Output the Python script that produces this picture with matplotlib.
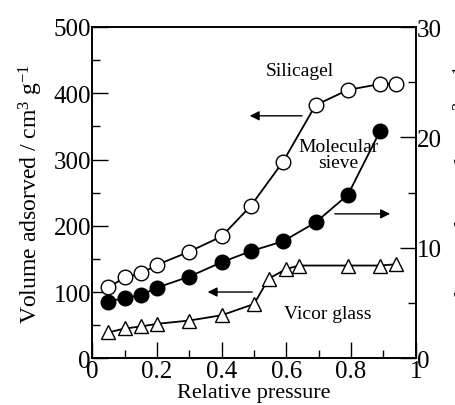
import matplotlib
matplotlib.use("Agg")
import matplotlib.pyplot as plt
from matplotlib.ticker import MultipleLocator

plt.rcParams['font.family'] = ['Liberation Serif', 'DejaVu Serif']
plt.rcParams['mathtext.fontset'] = 'custom'
plt.rcParams['mathtext.rm'] = 'Liberation Serif'
plt.rcParams['mathtext.it'] = 'Liberation Serif:italic'

# Data
sil_p = [0.05, 0.10, 0.15, 0.20, 0.30, 0.40, 0.49, 0.59, 0.69, 0.79, 0.89, 0.94]
sil_v = [107, 122, 128, 141, 161, 184, 230, 297, 382, 405, 414, 414]

mol_p = [0.05, 0.10, 0.15, 0.20, 0.30, 0.40, 0.49, 0.59, 0.69, 0.79, 0.89]
mol_v = [5.1, 5.5, 5.7, 6.4, 7.4, 8.7, 9.7, 10.6, 12.3, 14.8, 20.6]

vic_p = [0.05, 0.10, 0.15, 0.20, 0.30, 0.40, 0.50, 0.545, 0.60, 0.64, 0.79, 0.89, 0.94]
vic_v = [39, 45, 48, 52, 57, 65, 82, 120, 135, 140, 140, 140, 142]

xticks = [0, 0.2, 0.4, 0.6, 0.8, 1]
xticklabels = ["0", "0.2", "0.4", "0.6", "0.8", "1"]
yleft_ticks = [0, 100, 200, 300, 400, 500]
yright_ticks = [0, 10, 20, 30]

label_y = r"Volume adsorved / cm$^{3}$ g$^{-1}$"

fig = plt.figure(figsize=(4.56, 4.06), dpi=100)
ax = fig.add_axes([92.3/456, 1 - 359.3/406, (415.8-92.3)/456, (359.3-28)/406])
ax2 = ax.twinx()

lw = 1.3
ax.plot(sil_p, sil_v, '-', color='black', lw=lw, marker='o', ms=10.5,
        mfc='white', mec='black', mew=1.0, zorder=3)
ax2.plot(mol_p, mol_v, '-', color='black', lw=lw, marker='o', ms=10.5,
         mfc='black', mec='black', zorder=3)
ax.plot(vic_p, vic_v, '-', color='black', lw=lw, marker='^', ms=10.5,
        mfc='white', mec='black', mew=1.0, zorder=3)

ax.set_xlim(0, 1)
ax.set_ylim(0, 500)
ax2.set_ylim(0, 30)

ax.set_xticks(xticks)
ax.set_xticklabels(xticklabels)
ax.xaxis.set_minor_locator(MultipleLocator(0.1))
ax.set_yticks(yleft_ticks)
ax.yaxis.set_minor_locator(MultipleLocator(50))
ax2.set_yticks(yright_ticks)
ax2.yaxis.set_minor_locator(MultipleLocator(5))

ax.tick_params(axis='both', which='major', direction='in', length=11.5, width=1.0,
               labelsize=18, pad=1, top=False, right=False)
ax.tick_params(axis='both', which='minor', direction='in', length=5.8, width=1.0,
               top=False, right=False)
ax2.tick_params(axis='y', which='major', direction='in', length=11.5, width=1.0,
                labelsize=18, pad=1)
ax2.tick_params(axis='y', which='minor', direction='in', length=5.8, width=1.0)

for a in (ax, ax2):
    for s in a.spines.values():
        s.set_linewidth(1.2)

ax.set_xlabel("Relative pressure", fontsize=16, labelpad=1)
ax.set_ylabel(label_y, fontsize=17, labelpad=6)

# Right label mostly cut off at the figure edge
fig.text(452/456, 1 - 195/406, label_y, rotation=90, ha='left', va='center', fontsize=17)

# Annotations
ax.text(0.642, 434, "Silicagel", fontsize=14, ha='center', va='center')
ax.text(0.760, 308, "Molecular\nsieve", fontsize=14, ha='center', va='center',
        linespacing=0.9)
ax.text(0.729, 67, "Vicor glass", fontsize=14, ha='center', va='center')

arrow_kw = dict(arrowstyle='-|>', color='black', lw=1.0, mutation_scale=14)
ax.annotate("", xy=(0.478, 366), xytext=(0.657, 366), arrowprops=arrow_kw)
ax.annotate("", xy=(0.929, 218), xytext=(0.741, 218), arrowprops=arrow_kw)
ax.annotate("", xy=(0.348, 100), xytext=(0.503, 100), arrowprops=arrow_kw)

fig.savefig("out.png", dpi=100)
